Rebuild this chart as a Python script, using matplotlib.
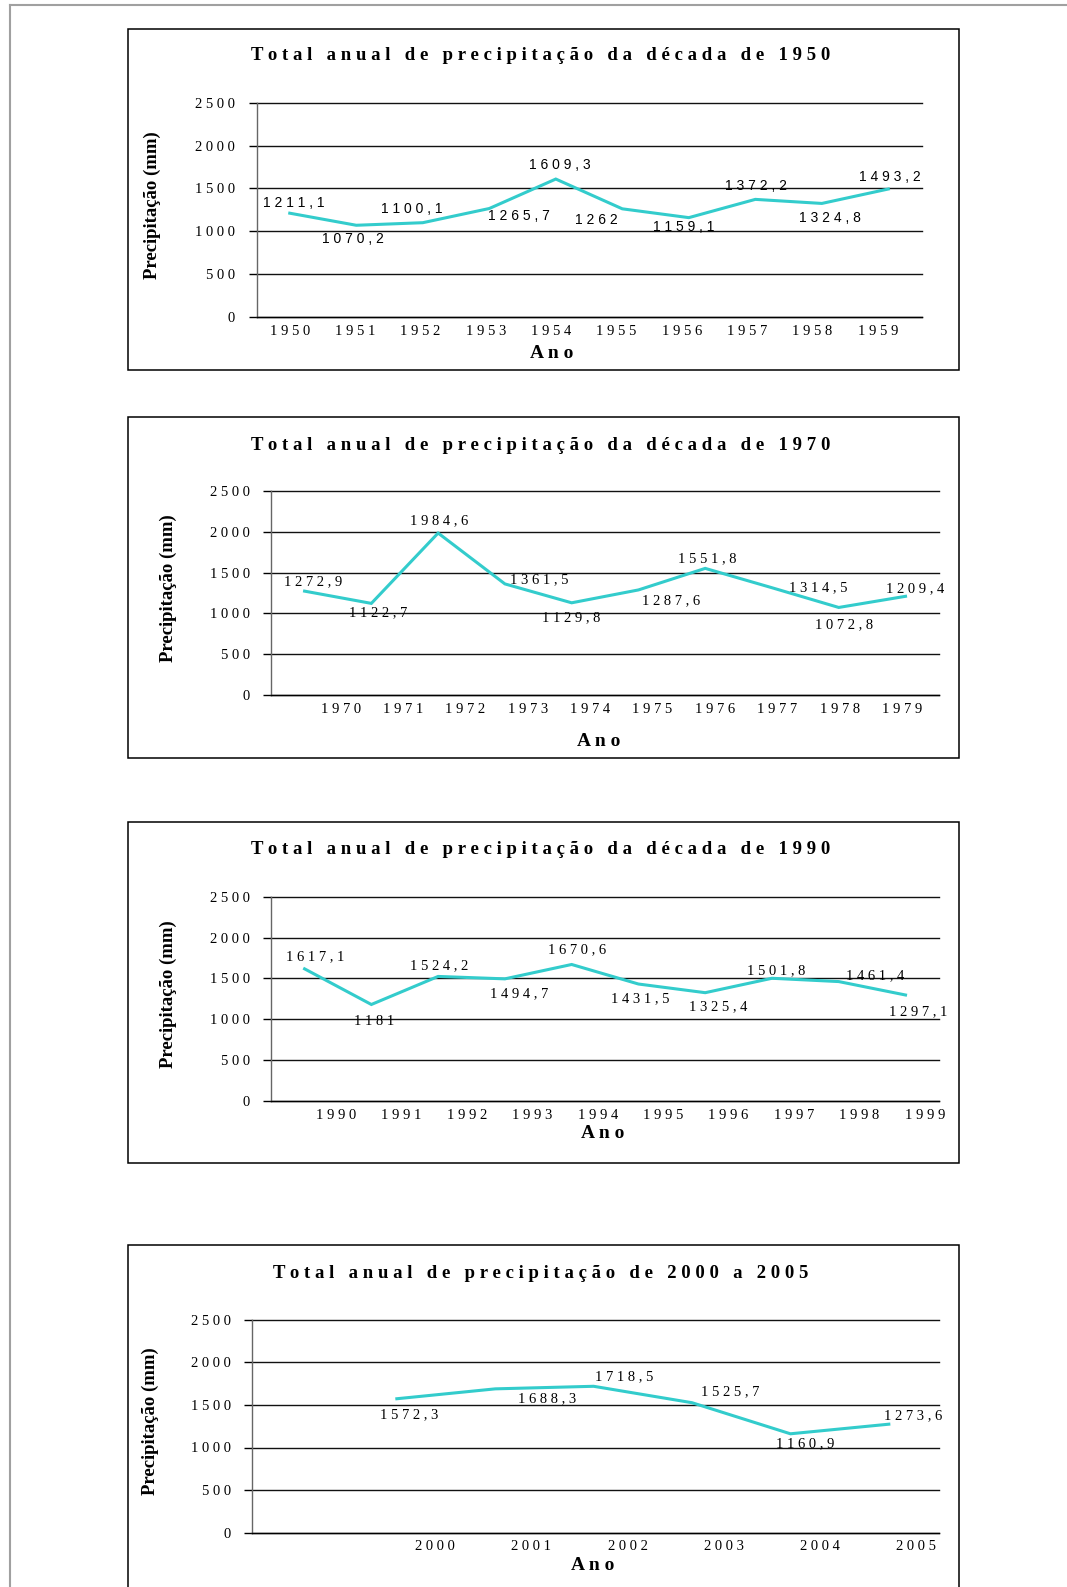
import numpy as np
import matplotlib.pyplot as plt
from matplotlib.patches import Rectangle
from matplotlib.lines import Line2D

W, H = 1067, 1587

# annual rainfall totals (mm)
anos_1950 = [1950, 1951, 1952, 1953, 1954, 1955, 1956, 1957, 1958, 1959]
precip_1950 = [1211.1, 1070.2, 1100.1, 1265.7, 1609.3, 1262, 1159.1, 1372.2, 1324.8, 1493.2]

anos_1970 = [1970, 1971, 1972, 1973, 1974, 1975, 1976, 1977, 1978, 1979]
precip_1970 = [1272.9, 1122.7, 1984.6, 1361.5, 1129.8, 1287.6, 1551.8, 1314.5, 1072.8, 1209.4]

anos_1990 = [1990, 1991, 1992, 1993, 1994, 1995, 1996, 1997, 1998, 1999]
precip_1990 = [1617.1, 1181, 1524.2, 1494.7, 1670.6, 1431.5, 1325.4, 1501.8, 1461.4, 1297.1]

anos_2000 = [2000, 2001, 2002, 2003, 2004, 2005]
precip_2000 = [1572.3, 1688.3, 1718.5, 1525.7, 1160.9, 1273.6]

y_ticks = [0, 500, 1000, 1500, 2000, 2500]

SERIF = 'Liberation Serif'
SANS = 'Liberation Sans'
LINE_COLOR = '#33CCCC'


def spaced(s, word_gap='  '):
    # letter-spaced text, wider gap between words
    return word_gap.join(' '.join(w) for w in s.split(' '))


def fmt(v):
    return f'{v:g}'.replace('.', ',')


def fx(x):
    return x / W


def fy(y):
    return 1 - y / H


panels = [
    dict(anos=anos_1950, precip=precip_1950,
         title='Total anual de precipitação da década de 1950',
         box=(29.3, 370), plot=(256.5, 102.7, 921.6, 317), xlim=(-0.5, 9.5),
         ticks=(0, 8.84), title_y=56, ylab_x=152, xlab=(552, 354),
         label_font=SANS,
         offsets=[(4, 10.5), (-3, -14), (-11, 13.4), (30, -7.5), (4, 14),
                  (-26, -11), (-5, -9), (1, 13.7), (8, -15), (2, 12.3)]),
    dict(anos=anos_1970, precip=precip_1970,
         title='Total anual de precipitação da década de 1970',
         box=(416.7, 758.3), plot=(271.2, 491, 938.9, 695), xlim=(-0.5, 9.5),
         ticks=(0.54, 8.95), title_y=445, ylab_x=168, xlab=(599, 741),
         label_font=SERIF,
         offsets=[(9, 9.4), (7, -9), (1, 12), (34.5, 4.6), (0, -14.5),
                  (32.6, -11), (2, 9.4), (46.4, 0), (5.6, -17.5), (10, 8)]),
    dict(anos=anos_1990, precip=precip_1990,
         title='Total anual de precipitação da década de 1990',
         box=(822.3, 1163.3), plot=(271.2, 896.7, 938.9, 1101), xlim=(-0.5, 9.5),
         ticks=(0.47, 9.29), title_y=850, ylab_x=168, xlab=(603, 1134),
         label_font=SERIF,
         offsets=[(11, 12), (3, -17), (1, 11), (14.4, -14.4), (5.6, 15),
                  (2, -15), (13, -14), (4, 8), (36.5, 6), (13, -16.7)]),
    dict(anos=anos_2000, precip=precip_2000,
         title='Total anual de precipitação de 2000 a 2005',
         box=(1245, 1620), plot=(252.2, 1319.7, 939, 1532.7), xlim=(-1.47, 5.51),
         ticks=(0.39, 5.28), title_y=1273, ylab_x=150, xlab=(593, 1566),
         label_font=SERIF,
         offsets=[(12, -16), (51.5, -10), (31, 10), (38, 11), (15, -10), (24, 9)]),
]

fig = plt.figure(figsize=(W / 100, H / 100), dpi=100)
fig.patch.set_facecolor('white')

# page frame (top and left edges only)
fig.add_artist(Line2D([fx(9.5), 1], [fy(5), fy(5)], color='#a0a0a0', lw=1.5,
                      transform=fig.transFigure))
fig.add_artist(Line2D([fx(9.5), fx(9.5)], [fy(5), 0], color='#a0a0a0', lw=1.5,
                      transform=fig.transFigure))

for p in panels:
    top, bottom = p['box']
    fig.add_artist(Rectangle((fx(127.5), fy(bottom)), fx(958.6) - fx(127.5),
                             fy(top) - fy(bottom), fill=False, ec='black', lw=1.1,
                             transform=fig.transFigure))

    x0, y0, x1, y1 = p['plot']
    ax = fig.add_axes([fx(x0), fy(y1), fx(x1) - fx(x0), fy(y0) - fy(y1)])
    ax.set_facecolor('none')

    x = np.arange(len(p['anos']))
    ax.plot(x, p['precip'], color=LINE_COLOR, lw=2.2, solid_joinstyle='miter', zorder=3)

    for xi, v, off in zip(x, p['precip'], p['offsets']):
        ax.annotate(spaced(fmt(v)), (xi, v), xytext=off, textcoords='offset pixels',
                    ha='center', va='center', fontsize=10.5 if p['label_font'] == SERIF else 10,
                    family=p['label_font'], annotation_clip=False, zorder=4)

    ax.set_xlim(*p['xlim'])
    ax.set_ylim(0, 2500)
    ax.set_yticks(y_ticks, [spaced(str(t)) for t in y_ticks], family=SERIF, fontsize=10.5)
    ax.set_xticks(np.linspace(p['ticks'][0], p['ticks'][1], len(p['anos'])),
                  [spaced(str(a)) for a in p['anos']], family=SERIF, fontsize=10.5)
    ax.tick_params(axis='x', length=0, pad=5.5)
    ax.tick_params(axis='y', length=5.8, width=1, direction='out', pad=9.5, colors='black')

    ax.yaxis.grid(True, color='#111111', lw=1)
    for gl in ax.get_ygridlines():
        gl.set_clip_on(False)
    ax.set_axisbelow(True)

    for s in ('top', 'right'):
        ax.spines[s].set_visible(False)
    ax.spines['left'].set_color('#666666')
    ax.spines['left'].set_linewidth(1)
    ax.spines['bottom'].set_color('black')
    ax.spines['bottom'].set_linewidth(1)

    fig.text(fx(541), fy(p['title_y']), spaced(p['title'], '   '), ha='center', va='center',
             family=SERIF, fontweight='bold', fontsize=13.5)
    fig.text(fx(p['ylab_x']), fy((y0 + y1) / 2 - 5), 'Precipitação (mm)', rotation=90,
             ha='center', va='center', family=SERIF, fontweight='bold', fontsize=13.5)
    fig.text(fx(p['xlab'][0]), fy(p['xlab'][1]), spaced('Ano'), ha='center', va='center',
             family=SERIF, fontweight='bold', fontsize=14)

fig.savefig('out.png', dpi=100, facecolor='white')
